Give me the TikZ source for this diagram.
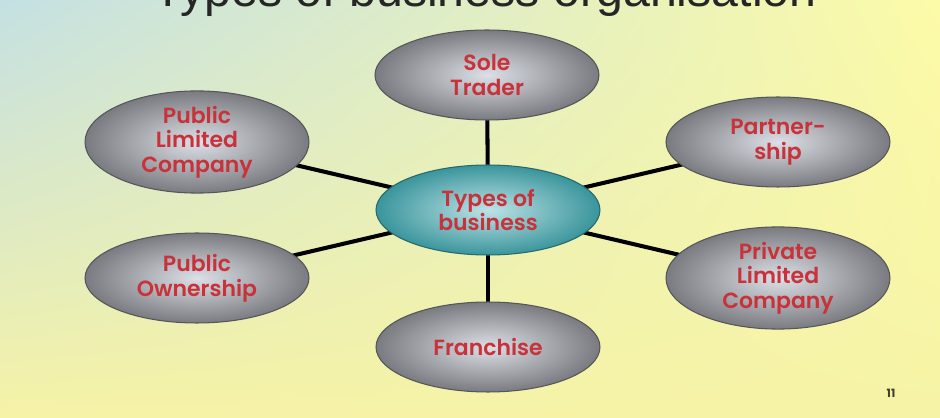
\documentclass[tikz,border=0pt]{standalone}
\usepackage{fontspec}
\setmainfont{Liberation Sans}
\newfontfamily\labelfont{Poppins}[UprightFont=* SemiBold]
\newfontfamily\numfont{Poppins}[UprightFont=* Bold]
\usetikzlibrary{shapes.geometric,shadings}
\definecolor{bgblue}{HTML}{C4E0E3}
\definecolor{bgyellow}{HTML}{FCFBA8}
\definecolor{bgyellowb}{HTML}{F6F3A6}
\definecolor{txtred}{HTML}{C8323A}
\definecolor{grayout}{HTML}{7A7B80}
\definecolor{grayin}{HTML}{DCE0E6}
\definecolor{tealout}{HTML}{3A959C}
\definecolor{tealin}{HTML}{BDE3E6}
\tikzset{
  bubble/.style={ellipse, minimum width=4.48cm, minimum height=1.8cm, inner sep=0pt,
    draw=grayout!70!black, line width=0.6pt, inner color=grayin, outer color=grayout,
    font=\labelfont\fontsize{12.5}{14}\selectfont, text=txtred, align=center},
  hub/.style={bubble, draw=tealout!70!black, inner color=tealin, outer color=tealout},
  spoke/.style={line width=2.3pt, black}
}
\begin{document}
\begin{tikzpicture}[x=0.02cm,y=-0.02cm]
\useasboundingbox (0,0) rectangle (940,418);
\shade[upper left=bgblue, upper right=bgyellow, lower left=bgyellowb, lower right=bgyellowb] (0,0) rectangle (940,418);
\begin{scope}
\clip (0,0) rectangle (940,418);
\node[anchor=base, font=\fontsize{27.5}{32}\selectfont, text=black!85] (title) at (485,7) {Types of business organisation};
\end{scope}
\coordinate (c0) at (488,210);
\coordinate (c1) at (487,75);
\coordinate (c2) at (197,142);
\coordinate (c3) at (778,142);
\coordinate (c4) at (197,278);
\coordinate (c5) at (778,278);
\coordinate (c6) at (488,347);
\draw[spoke] (c0) -- (c1);
\draw[spoke] (c0) -- (c2);
\draw[spoke] (c0) -- (c3);
\draw[spoke] (c0) -- (c4);
\draw[spoke] (c0) -- (c5);
\draw[spoke] (c0) -- (c6);
\node[hub] (hub) at (c0) {Types of\\business};
\node[bubble] (sole) at (c1) {Sole\\Trader};
\node[bubble] (plc) at (c2) {Public\\Limited\\Company};
\node[bubble] (part) at (c3) {Partner-\\ship};
\node[bubble] (pub) at (c4) {Public\\Ownership};
\node[bubble] (priv) at (c5) {Private\\Limited\\Company};
\node[bubble] (fran) at (c6) {Franchise};
\node[font=\numfont\fontsize{6.5}{7}\selectfont, text=black!70!olive] (num) at (891,393) {11};
\end{tikzpicture}
\end{document}
